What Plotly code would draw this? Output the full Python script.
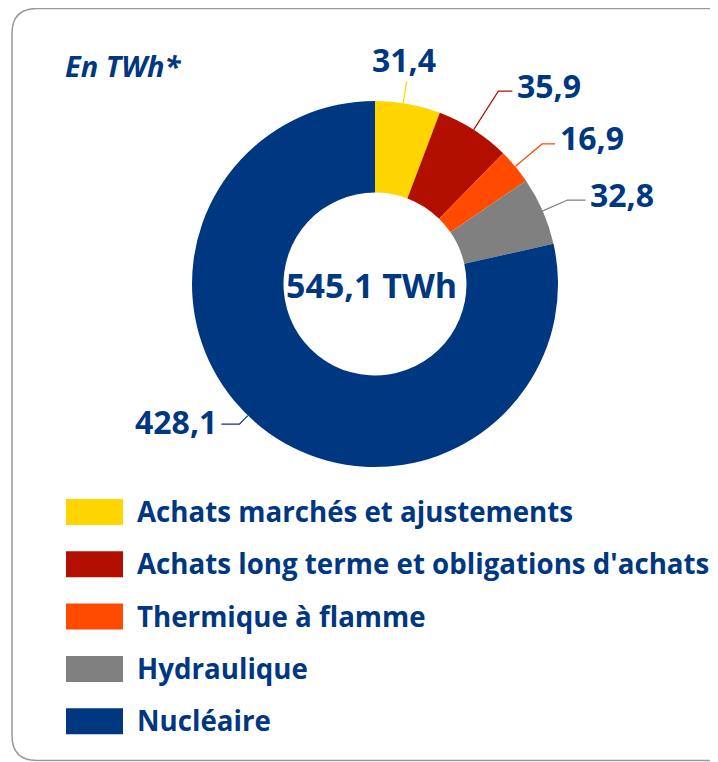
import numpy as np
import plotly.graph_objects as go

# ---- data ----
categories = [
    "Achats marchés et ajustements",
    "Achats long terme et obligations d'achats",
    "Thermique à flamme",
    "Hydraulique",
    "Nucléaire",
]
values = [31.4, 35.9, 16.9, 32.8, 428.1]
unit_label = "En TWh*"
unit = "TWh"

# ---- style ----
colors = ["#FFD500", "#B30F00", "#FF4A00", "#808080", "#003781"]
NAVY = "#003781"
FONT = "Open Sans"
OFF = 8  # page body margin of the html page
W, H = 718 - OFF, 762 - OFF
CX, CY, R_OUT, HOLE = 375, 284, 183, 0.5  # window pixel coordinates
# per-slice leader style: radial length, horizontal length, side, angle shift (deg)
leaders = [
    dict(radial=22, horiz=0, side="top", shift=-1.5),
    dict(radial=46, horiz=14, side="right", shift=0),
    dict(radial=35, horiz=13, side="right", shift=0),
    dict(radial=27, horiz=18, side="right", shift=0),
    dict(radial=12, horiz=18, side="left", shift=5.4),
]


def px(x):
    return (x - OFF) / W


def py(y):
    return 1 - (y - OFF) / H


def fmt(v):
    return f"{v:.1f}".replace(".", ",")


total = float(np.sum(values))

fig = go.Figure(
    go.Pie(
        values=values,
        labels=categories,
        sort=False,
        direction="clockwise",
        rotation=0,
        hole=HOLE,
        marker=dict(colors=colors, line=dict(width=0)),
        textinfo="none",
        hoverinfo="label+value",
        showlegend=False,
        domain=dict(x=[px(CX - R_OUT), px(CX + R_OUT)], y=[py(CY + R_OUT), py(CY - R_OUT)]),
    )
)

shapes = []
annotations = []

# leader lines + value labels, derived from slice angles
cum = np.cumsum(values)
starts = cum - np.array(values)
for i, v in enumerate(values):
    st = leaders[i]
    ang = np.deg2rad((starts[i] + v / 2) / total * 360 + st["shift"])
    sx, sy = CX + R_OUT * np.sin(ang), CY - R_OUT * np.cos(ang)
    r2 = R_OUT + st["radial"]
    ex, ey = CX + r2 * np.sin(ang), CY - r2 * np.cos(ang)
    pts = [(sx, sy), (ex, ey)]
    if st["side"] == "right":
        pts.append((ex + st["horiz"], ey))
    elif st["side"] == "left":
        pts.append((ex - st["horiz"], ey))
    path = "M " + " L ".join(f"{px(x):.5f},{py(y):.5f}" for x, y in pts)
    shapes.append(dict(type="path", xref="paper", yref="paper", path=path,
                       line=dict(color=colors[i], width=1.2)))
    lx, ly = pts[-1]
    font = dict(family=FONT, size=32, color=NAVY)
    txt = f"<b>{fmt(v)}</b>"
    if st["side"] == "top":
        annotations.append(dict(x=px(lx - 3), y=py(ly + 2), xref="paper", yref="paper", text=txt,
                                showarrow=False, xanchor="center", yanchor="bottom", font=font))
    elif st["side"] == "right":
        annotations.append(dict(x=px(lx + 3), y=py(ly - 6), xref="paper", yref="paper", text=txt,
                                showarrow=False, xanchor="left", yanchor="middle", font=font))
    else:
        annotations.append(dict(x=px(lx - 2), y=py(ly - 3), xref="paper", yref="paper", text=txt,
                                showarrow=False, xanchor="right", yanchor="middle", font=font))

# center total
annotations.append(dict(x=px(CX - 4), y=py(CY + 1), xref="paper", yref="paper",
                        text=f"<b>{fmt(total)} {unit}</b>", showarrow=False,
                        xanchor="center", yanchor="middle",
                        font=dict(family=FONT, size=34, color=NAVY)))

# unit label
annotations.append(dict(x=px(63), y=py(66), xref="paper", yref="paper",
                        text=f"<b><i>{unit_label}</i></b>", showarrow=False,
                        xanchor="left", yanchor="middle",
                        font=dict(family=FONT, size=29, color=NAVY)))

# custom legend
LEG_Y0, LEG_STEP = 512, 52.3
for i, cat in enumerate(categories):
    yc = LEG_Y0 + i * LEG_STEP
    shapes.append(dict(type="rect", xref="paper", yref="paper",
                       x0=px(66), x1=px(123), y0=py(yc - 13), y1=py(yc + 13),
                       fillcolor=colors[i], line=dict(width=0)))
    annotations.append(dict(x=px(135), y=py(yc - 1), xref="paper", yref="paper",
                            text=f"<b>{cat}</b>", showarrow=False,
                            xanchor="left", yanchor="middle",
                            font=dict(family=FONT, size=27.7, color=NAVY)))

# rounded border (open to the right)
bx0, by0, bx1, by1, rr = 12, 8.5, 740, 760.5, 25
pts_path = (
    f"M {px(bx0 + rr)},{py(by0)} L {px(bx1 - rr)},{py(by0)} "
    f"Q {px(bx1)},{py(by0)} {px(bx1)},{py(by0 + rr)} "
    f"L {px(bx1)},{py(by1 - rr)} Q {px(bx1)},{py(by1)} {px(bx1 - rr)},{py(by1)} "
    f"L {px(bx0 + rr)},{py(by1)} Q {px(bx0)},{py(by1)} {px(bx0)},{py(by1 - rr)} "
    f"L {px(bx0)},{py(by0 + rr)} Q {px(bx0)},{py(by0)} {px(bx0 + rr)},{py(by0)} Z"
)
shapes.append(dict(type="path", xref="paper", yref="paper", path=pts_path,
                   line=dict(color="#9A9A9A", width=1.5), layer="below"))

fig.update_layout(
    width=W, height=H,
    margin=dict(l=0, r=0, t=0, b=0),
    paper_bgcolor="white", plot_bgcolor="white",
    shapes=shapes, annotations=annotations,
    showlegend=False,
)

fig.write_html("out.html")
